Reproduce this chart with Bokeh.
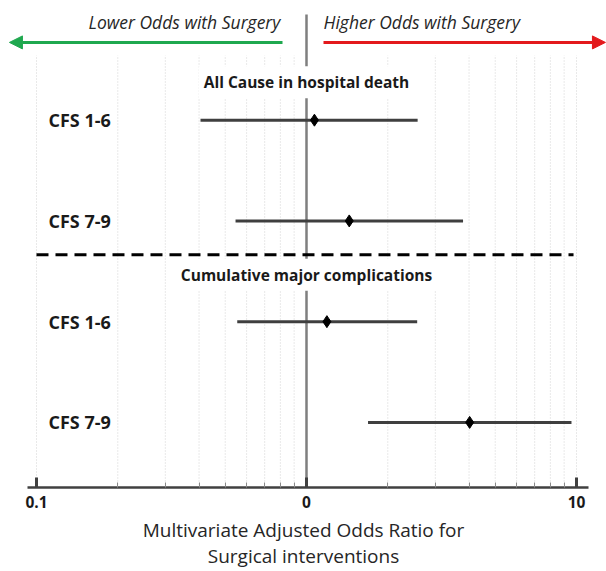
from bokeh.plotting import figure
from bokeh.models import Range1d, FixedTicker, Arrow, NormalHead, Label, ColumnDataSource
from bokeh.embed import file_html
from bokeh.resources import INLINE
from bokeh.core.properties import value

# ---------------- data ----------------
group_titles = ["All Cause in hospital death", "Cumulative major complications"]
row_labels = ["CFS 1-6", "CFS 7-9", "CFS 1-6", "CFS 7-9"]
odds_ratio = [1.07, 1.44, 1.19, 4.02]
ci_low = [0.405, 0.546, 0.554, 1.69]
ci_high = [2.58, 3.80, 2.57, 9.58]
row_pos = [4, 3, 2, 1]
group_pos = [4.376, 2.465]
separator_pos = 2.663
null_value = 1
major_ticks = [0.1, 1, 10]
major_tick_labels = ["0.1", "0", "10"]
minor_ticks = [0.2, 0.3, 0.4, 0.5, 0.6, 0.7, 0.8, 0.9, 2, 3, 4, 5, 6, 7, 8, 9]
direction_texts = ["Lower Odds with Surgery", "Higher Odds with Surgery"]
x_title = "Multivariate Adjusted Odds Ratio for\nSurgical interventions"

FONT = "Open Sans"

p = figure(width=606, height=571, x_axis_type="log",
           x_range=Range1d(10 ** -1.1333, 10 ** 1.1111),
           y_range=Range1d(0.3535, 5.1881),
           output_backend="svg", toolbar_location=None,
           y_axis_location=None, min_border_left=0, min_border_right=0,
           min_border_top=0, min_border_bottom=83)
p.outline_line_color = None
p.xgrid.visible = False
p.ygrid.visible = False
p.background_fill_color = "white"
p.border_fill_color = "white"

# dotted grid lines
grid_x = [major_ticks[0]] + minor_ticks + [major_ticks[-1]]
p.segment(x0=grid_x, x1=grid_x, y0=[p.y_range.start] * len(grid_x), y1=[4.644] * len(grid_x),
          line_color="#d2d2d2", line_width=1, line_dash="1 2")

# center (null) line
p.segment(x0=[null_value], x1=[null_value], y0=[p.y_range.start], y1=[5.05],
          line_color="#7f7f7f", line_width=2.5)

# separator dashed line
p.segment(x0=[major_ticks[0]], x1=[9.75], y0=[separator_pos], y1=[separator_pos],
          line_color="black", line_width=3, line_dash="12 7")

# confidence intervals and point estimates
src = ColumnDataSource(dict(lo=ci_low, hi=ci_high, orr=odds_ratio, y=row_pos, lab=row_labels))
p.segment(x0="lo", x1="hi", y0="y", y1="y", source=src, line_color="#3f3f3f", line_width=3)
p.scatter(x="orr", y="y", source=src, marker="diamond", size=12, color="black")

# row labels
p.text(x=p.x_range.start, y="y", text="lab", source=src, x_offset=48,
       text_font=value(FONT), text_font_style="bold", text_font_size="18px",
       text_color="#1a1a1a", text_baseline="middle", text_align="left")

# direction arrows and texts
arrow_y = 4.772
p.add_layout(Arrow(x_start=0.815, y_start=arrow_y, x_end=0.0794, y_end=arrow_y,
                   line_color="#1fa84f", line_width=3,
                   end=NormalHead(size=13, fill_color="#1fa84f", line_color="#1fa84f")))
p.add_layout(Arrow(x_start=1.156, y_start=arrow_y, x_end=12.8, y_end=arrow_y,
                   line_color="#e3191c", line_width=3,
                   end=NormalHead(size=13, fill_color="#e3191c", line_color="#e3191c")))
p.text(x=[0.80, 1.156], y=[4.97, 4.97], text=direction_texts,
       text_align=["right", "left"], text_baseline="middle",
       text_font=value(FONT), text_font_style="italic", text_font_size="17.5px",
       text_color="#262626")

# group titles with white background
for t, gy in zip(group_titles, group_pos):
    p.add_layout(Label(x=null_value, y=gy, text=t, text_align="center", text_baseline="middle",
                       text_font=FONT, text_font_style="bold", text_font_size="15.5px",
                       text_color="#1a1a1a", background_fill_color="white", padding=5))

# x axis
ax = p.xaxis[0]
ax.ticker = FixedTicker(ticks=major_ticks, minor_ticks=minor_ticks)
ax.major_label_overrides = {t: l for t, l in zip(major_ticks, major_tick_labels)}
ax.bounds = (10 ** -1.0333, 10 ** 1.0444)
ax.axis_line_width = 2.5
ax.axis_line_color = "#404040"
ax.major_tick_in = 10
ax.major_tick_out = 0
ax.major_tick_line_width = 3
ax.major_tick_line_color = "#404040"
ax.minor_tick_in = 5
ax.minor_tick_out = 0
ax.minor_tick_line_color = "#8a8a8a"
ax.major_label_standoff = 8
ax.major_label_text_font = FONT
ax.major_label_text_font_style = "bold"
ax.major_label_text_font_size = "15.5px"
ax.major_label_text_color = "#1a1a1a"
ax.axis_label = x_title
ax.axis_label_standoff = 6
ax.axis_label_text_font = FONT
ax.axis_label_text_font_style = "normal"
ax.axis_label_text_font_size = "19px"
ax.axis_label_text_line_height = 1.0
ax.axis_label_text_color = "#262626"

open("out.html", "w").write(file_html(p, INLINE))
